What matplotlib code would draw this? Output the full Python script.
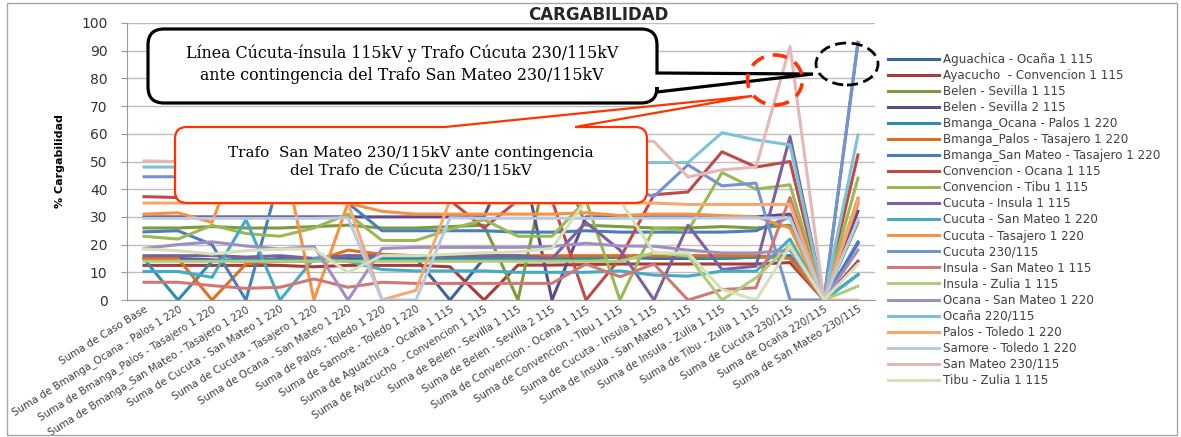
import numpy as np
import matplotlib
matplotlib.use('Agg')
import matplotlib.pyplot as plt
from matplotlib.path import Path
from matplotlib.patches import PathPatch, Ellipse, Rectangle
from matplotlib.transforms import IdentityTransform

W, H = 1181, 437

categorias = [
    "Suma de Caso Base",
    "Suma de Bmanga_Ocana - Palos 1 220",
    "Suma de Bmanga_Palos - Tasajero 1 220",
    "Suma de Bmanga_San Mateo - Tasajero 1 220",
    "Suma de Cucuta - San Mateo 1 220",
    "Suma de Cucuta - Tasajero 1 220",
    "Suma de Ocana - San Mateo 1 220",
    "Suma de Palos - Toledo 1 220",
    "Suma de Samore - Toledo 1 220",
    "Suma de Aguachica - Ocaña 1 115",
    "Suma de Ayacucho  - Convencion 1 115",
    "Suma de Belen - Sevilla 1 115",
    "Suma de Belen - Sevilla 2 115",
    "Suma de Convencion - Ocana 1 115",
    "Suma de Convencion - Tibu 1 115",
    "Suma de Cucuta - Insula 1 115",
    "Suma de Insula - San Mateo 1 115",
    "Suma de Insula - Zulia 1 115",
    "Suma de Tibu - Zulia 1 115",
    "Suma de Cucuta 230/115",
    "Suma de Ocaña 220/115",
    "Suma de San Mateo 230/115",
]

# % de cargabilidad de cada elemento por contingencia
aguachica = [15, 15, 14.5, 14, 15, 14.5, 15, 14.5, 15, 0, 15, 15, 15.5, 15, 15.5, 15, 15, 15, 15.5, 16, 0, 20.5]
ayacucho = [12.5, 12.5, 12.5, 12.5, 12.5, 12, 12.5, 12.5, 12.5, 12, 0, 12.6, 12.6, 12.8, 13, 13, 13, 13, 13, 13.5, 0, 14]
belen1 = [26, 26, 26.5, 26, 26, 26.5, 27, 26, 26, 26.5, 27, 0, 57, 27, 26.5, 26, 26, 26.5, 26, 27, 0, 28]
belen2 = [30, 30, 30, 30, 30, 30, 30, 30, 30, 30, 30, 58, 0, 30, 30, 30, 30, 30, 30, 31, 0, 32]
bmanga_ocana = [14.8, 0, 14, 15, 14.5, 15, 16, 15, 15, 15, 15, 15, 15, 15, 15.5, 15.5, 15.5, 15, 15.5, 15.5, 0, 9.2]
bmanga_palos = [15, 15, 0, 13, 14, 14, 18, 16.5, 16, 16, 16, 16, 16, 16, 16, 16, 16, 16, 16, 15, 0, 35]
bmanga_sanmateo = [24.6, 25, 20, 0, 45, 44, 35, 25, 25, 25, 25, 24.5, 24.5, 25, 24.5, 24.5, 24.5, 24.5, 25, 30, 0, 21]
conv_ocana = [37.3, 37, 37, 37, 37, 37, 37, 37, 37, 36, 26, 36, 36, 0, 15, 38, 39, 53.5, 48, 50, 0, 52.4]
conv_tibu = [23, 22, 27, 24, 23, 26, 31, 21.5, 21.5, 25.5, 29, 23, 23, 36, 0, 26, 25, 46, 40, 41.6, 0, 44]
cuc_insula = [16, 16, 16, 15.5, 16, 15, 16, 16, 16, 16, 16, 16, 15, 28, 18, 0, 27, 11, 12.2, 59, 0, 93]
cuc_sanmateo = [10.3, 10.3, 8.2, 29, 0, 15, 14, 11, 10.5, 10.5, 10.5, 10, 10, 10, 10.5, 9, 8.6, 10.4, 10.4, 22, 0, 9]
cuc_tasajero = [31, 31.5, 28, 60, 58, 0, 35, 32, 31, 31, 31, 31, 31, 31.5, 30.5, 31, 31, 30.5, 30, 26, 0, 36.8]
cucuta230 = [44.5, 44.5, 44, 44, 45, 44, 44, 44, 44, 44, 44, 44, 44, 45, 41, 37.4, 48.8, 41.2, 42.2, 0, 0, 93]
insula_sanmateo = [6.4, 6.4, 5.2, 4.2, 4.6, 7.6, 4.6, 6.4, 6, 6, 6, 6, 6, 13, 8.4, 13, 0, 3.8, 4.4, 37, 0, 36]
insula_zulia = [14, 14, 14, 14, 14, 14, 14, 14, 14, 14, 14, 14, 14, 14, 14, 17, 16, 0, 8, 20, 0, 5]
ocana_sanmateo = [18.6, 20, 21, 19.5, 18.4, 19.3, 0, 18.6, 19, 19, 19, 19, 19.3, 20.5, 19.5, 19.4, 18, 17, 17, 18, 0, 18]
ocana220 = [48, 48, 48, 48, 48, 48, 48, 48, 48, 48, 48, 48, 48, 49, 49.5, 49.6, 49.6, 60.4, 57.8, 56, 0, 59.6]
palos_toledo = [35, 35, 35, 35, 35, 35, 35, 0, 3.5, 36, 35, 35, 35, 35, 35, 35, 34.5, 34.5, 34.5, 34.5, 0, 36]
samore_toledo = [29.5, 29.5, 29.5, 29.5, 29.5, 29.5, 29.7, 0, 0, 29.7, 29.5, 29.5, 29.5, 29.5, 29.5, 29.6, 29.6, 29.6, 29.6, 29.6, 0, 29]
sanmateo230 = [50.2, 50, 50, 50, 50, 50, 50, 50, 50, 50, 50, 50, 50, 52, 58, 57.2, 44.4, 47, 48, 91.5, 0, 0]
tibu_zulia = [18.4, 17.8, 16.6, 17.8, 18.4, 18.4, 10, 16, 16, 16.5, 17, 17.4, 18.6, 36, 36, 17, 17, 3.8, 0, 19.4, 0, 13]

series = [
    ("Aguachica - Ocaña 1 115", aguachica, '#3B64A0'),
    ("Ayacucho  - Convencion 1 115", ayacucho, '#A83C3A'),
    ("Belen - Sevilla 1 115", belen1, '#7D9A3D'),
    ("Belen - Sevilla 2 115", belen2, '#5F4B8B'),
    ("Bmanga_Ocana - Palos 1 220", bmanga_ocana, '#2F8FA8'),
    ("Bmanga_Palos - Tasajero 1 220", bmanga_palos, '#E0701C'),
    ("Bmanga_San Mateo - Tasajero 1 220", bmanga_sanmateo, '#4A7EBB'),
    ("Convencion - Ocana 1 115", conv_ocana, '#BE4B48'),
    ("Convencion - Tibu 1 115", conv_tibu, '#98B954'),
    ("Cucuta - Insula 1 115", cuc_insula, '#7D60A0'),
    ("Cucuta - San Mateo 1 220", cuc_sanmateo, '#46AAC5'),
    ("Cucuta - Tasajero 1 220", cuc_tasajero, '#F69240'),
    ("Cucuta 230/115", cucuta230, '#7394CE'),
    ("Insula - San Mateo 1 115", insula_sanmateo, '#D17876'),
    ("Insula - Zulia 1 115", insula_zulia, '#AFCC7C'),
    ("Ocana - San Mateo 1 220", ocana_sanmateo, '#A28FC0'),
    ("Ocaña 220/115", ocana220, '#7CC3D8'),
    ("Palos - Toledo 1 220", palos_toledo, '#F9A86C'),
    ("Samore - Toledo 1 220", samore_toledo, '#B7C9E4'),
    ("San Mateo 230/115", sanmateo230, '#E5B7B6'),
    ("Tibu - Zulia 1 115", tibu_zulia, '#D3E2B8'),
]

fig = plt.figure(figsize=(W / 100, H / 100), dpi=100)
ax = fig.add_axes([127 / W, 1 - 300 / H, (875 - 127) / W, (300 - 23) / H])

x = np.arange(len(categorias))
for nombre, vals, col in series:
    ax.plot(x, vals, color=col, lw=2.2, label=nombre)

ax.set_xlim(-0.5, len(categorias) - 0.5)
ax.set_ylim(0, 100)
ax.set_yticks(range(0, 101, 10))
ax.grid(axis='y', color='#BFBFBF', lw=1)
ax.set_axisbelow(True)
for s in ['top', 'right']:
    ax.spines[s].set_visible(False)
for s in ['left', 'bottom']:
    ax.spines[s].set_color('#9A9A9A')
ax.tick_params(axis='y', length=4, color='#9A9A9A', labelsize=10, labelcolor='#333333', pad=10)
ax.tick_params(axis='x', length=0, pad=3)
ax.set_xticks(x)
ax.set_xticklabels(categorias, rotation=32, ha='right', rotation_mode='anchor',
                   fontsize=7.4, color='#404040')
ax.set_ylabel('% Cargabilidad', fontsize=8, fontweight='bold', labelpad=12)
fig.text(598 / W, 1 - 15 / H, 'CARGABILIDAD', ha='center', va='center',
         fontsize=12, fontweight='bold', color='#262626')

fig.legend(loc='upper left', bbox_to_anchor=(888 / W, 1 - 53 / H), frameon=False,
           fontsize=8.6, handlelength=4.3, handletextpad=0.3, labelspacing=0.255,
           borderpad=0, borderaxespad=0, labelcolor='#404040')


# ---- llamadas (coordenadas de imagen, y hacia abajo) ----
def caja(x0, y0, x1, y1, r, lado, a, b, punta):
    v = [(x0 + r, y0)]
    c = [Path.MOVETO]
    if lado == 'arriba':
        v += [(a, y0), punta, (b, y0)]
        c += [Path.LINETO] * 3
    v += [(x1 - r, y0), (x1, y0), (x1, y0 + r)]
    c += [Path.LINETO, Path.CURVE3, Path.CURVE3]
    if lado == 'derecha':
        v += [(x1, a), punta, (x1, b)]
        c += [Path.LINETO] * 3
    v += [(x1, y1 - r), (x1, y1), (x1 - r, y1)]
    c += [Path.LINETO, Path.CURVE3, Path.CURVE3]
    v += [(x0 + r, y1), (x0, y1), (x0, y1 - r)]
    c += [Path.LINETO, Path.CURVE3, Path.CURVE3]
    v += [(x0, y0 + r), (x0, y0), (x0 + r, y0), (x0 + r, y0)]
    c += [Path.LINETO, Path.CURVE3, Path.CURVE3, Path.CLOSEPOLY]
    v = [(px, H - py) for px, py in v]
    return Path(v, c)


tr = IdentityTransform()
negro = caja(148, 29, 657, 103, 16, 'derecha', 73, 92, (813, 74))
fig.add_artist(PathPatch(negro, facecolor='white', edgecolor='black', lw=2.3,
                         transform=tr, zorder=5))
rojo = caja(175, 127, 647, 203, 12, 'arriba', 445, 575, (752, 96))
fig.add_artist(PathPatch(rojo, facecolor='white', edgecolor='#FF3300', lw=1.6,
                         transform=tr, zorder=5))

fig.text(402 / W, 1 - 64 / H,
         'Línea Cúcuta-ínsula 115kV y Trafo Cúcuta 230/115kV\nante contingencia del Trafo San Mateo 230/115kV',
         ha='center', va='center', fontsize=11.4, family='DejaVu Serif',
         linespacing=1.35, zorder=6)
fig.text(411 / W, 1 - 162 / H,
         'Trafo  San Mateo 230/115kV ante contingencia\ndel Trafo de Cúcuta 230/115kV',
         ha='center', va='center', fontsize=11, family='DejaVu Serif',
         linespacing=1.35, zorder=6)

fig.add_artist(Ellipse((775, H - 80), 55, 50, fill=False, ec='#FF3300', lw=2.6,
                       ls=(0, (4, 2.5)), transform=tr, zorder=6))
fig.add_artist(Ellipse((847, H - 64), 62, 42, fill=False, ec='black', lw=2,
                       ls=(0, (4, 2)), transform=tr, zorder=6))

# marco del grafico
fig.add_artist(Rectangle((7, 2), 1170, 432, fill=False, ec='#A6A6A6', lw=1,
                         transform=tr, zorder=7))

fig.savefig('out.png', dpi=100)
